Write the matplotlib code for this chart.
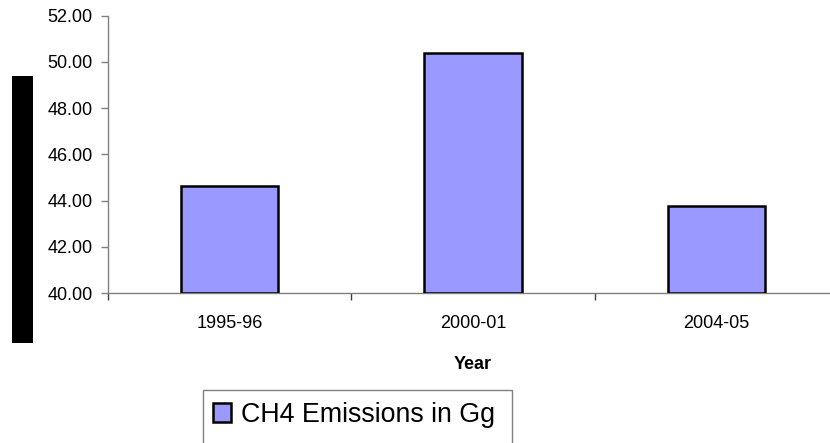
import matplotlib
matplotlib.use("Agg")
import matplotlib.pyplot as plt
import matplotlib.patches as mpatches
import numpy as np

plt.rcParams['font.family'] = ['Liberation Sans', 'DejaVu Sans']

# data
years = ['1995-96', '2000-01', '2004-05']
ch4 = [44.64, 50.39, 43.75]
series_name = 'CH4 Emissions in Gg'
yticks = [40, 42, 44, 46, 48, 50, 52]

W, H = 830, 443
fig = plt.figure(figsize=(W / 100, H / 100), dpi=100)
# plot area runs past the right edge, like the original
ax = fig.add_axes([108 / W, 1 - 293 / H, 730 / W, (293 - 15.7) / H])

x = np.arange(len(years))
bars = ax.bar(x, [v - 40 for v in ch4], bottom=40, width=0.4,
              color='#9999FF', edgecolor='black', linewidth=1.8,
              label=series_name, zorder=3)

ax.set_xlim(-0.5, len(years) - 0.5)
ax.set_ylim(40, 52)
ax.set_yticks(yticks)
ax.set_yticklabels([f'{t:.2f}' for t in yticks])
ax.set_xticks(x)
ax.set_xticklabels(years)
ax.set_xticks(np.arange(len(years) + 1) - 0.5, minor=True)

for s in ['top', 'right']:
    ax.spines[s].set_visible(False)
for s in ['left', 'bottom']:
    ax.spines[s].set_color('#808080')
    ax.spines[s].set_linewidth(1.0)

ax.tick_params(axis='y', length=5, width=1, color='#808080', pad=6, labelsize=13)
ax.tick_params(axis='x', which='major', length=0, pad=16, labelsize=13)
ax.tick_params(axis='x', which='minor', length=5, width=1, color='#404040')

ax.set_xlabel('Year', fontsize=13, fontweight='bold', labelpad=17)

# blacked-out y axis title
fig.patches.append(mpatches.Rectangle((12 / W, 1 - 343 / H), 21 / W, 267 / H,
                                      transform=fig.transFigure,
                                      facecolor='black', edgecolor='none'))

# legend box runs off the bottom of the picture
fig.patches.append(mpatches.Rectangle((203 / W, -0.05), 309 / W, 1 - 390 / H + 0.05,
                                      transform=fig.transFigure,
                                      facecolor='white', edgecolor='#808080',
                                      linewidth=1.0))
leg = fig.legend(handles=[bars], labels=[series_name], loc='center left',
                 bbox_to_anchor=(203 / W, 1 - 415 / H), fontsize=19.3,
                 frameon=False, handlelength=0.68, handleheight=0.68,
                 handletextpad=0.38, borderpad=0.37, borderaxespad=0)

fig.savefig('out.png', dpi=100)
